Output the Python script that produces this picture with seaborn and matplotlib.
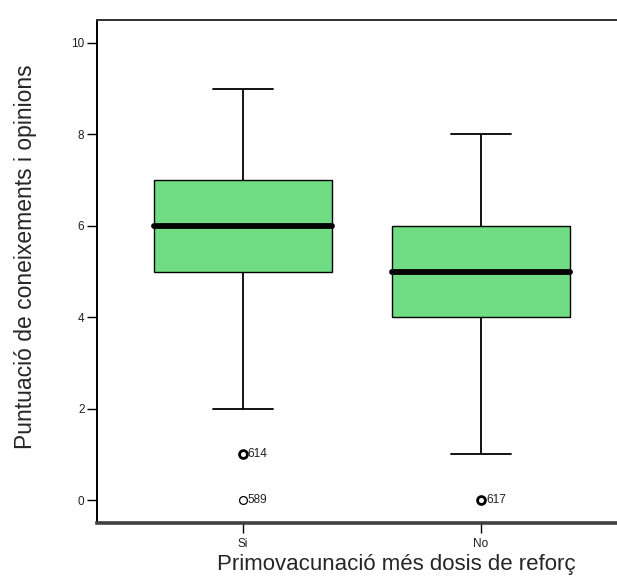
import seaborn as sns
import matplotlib.pyplot as plt
import pandas as pd

# groups and scores (0-10) per group
groups = ["Si", "No"]
si_scores = [0, 1, 1, 2, 5, 5, 5, 6, 6, 6, 7, 7, 7, 8, 8, 9, 9]
no_scores = [0, 0, 1, 4, 4, 4, 5, 5, 5, 5, 6, 6, 6, 7, 8, 8, 8]

# labelled outliers (case numbers)
out_group = ["Si", "Si", "No"]
out_value = [1, 0, 0]
out_case = ["614", "589", "617"]
out_count = [2, 1, 2]

y_ticks = [0, 2, 4, 6, 8, 10]

data = pd.DataFrame({
    'grup': ["Si"] * len(si_scores) + ["No"] * len(no_scores),
    'punt': si_scores + no_scores,
})

sns.set_style('white')
plt.rcParams['font.family'] = ['Liberation Sans', 'DejaVu Sans']

fig = plt.figure(figsize=(6.17, 5.78), dpi=100)
ax = fig.add_axes([0.1572, 0.0952, 0.859, 0.870])

sns.boxplot(data=data, x='grup', y='punt', order=groups, ax=ax,
            width=0.75, color='#70dc84', saturation=1, showfliers=False,
            whis=1.5,
            boxprops={'edgecolor': 'black', 'linewidth': 1.0},
            whiskerprops={'color': 'black', 'linewidth': 1.3},
            capprops={'color': 'black', 'linewidth': 1.3},
            medianprops={'color': 'black', 'linewidth': 4.2,
                         'solid_capstyle': 'round'},
            capwidths=0.25)

# outliers with case labels
for g, v, c, n in zip(out_group, out_value, out_case, out_count):
    xpos = groups.index(g)
    ax.scatter([xpos], [v], s=32, facecolor='white', edgecolor='black',
               linewidth=0.9 if n == 1 else 2.0, zorder=5)
    ax.annotate(c, (xpos, v), xytext=(3.5, 0), textcoords='offset points',
                va='center', ha='left', fontsize=8.5, color='#202020')

ax.set_xlim(-0.613, 1.613)
ax.set_ylim(-0.5, 10.5)
ax.set_yticks(y_ticks)
ax.set_yticklabels([str(t) for t in y_ticks], fontsize=8.5)
ax.set_xticks(range(len(groups)))
ax.set_xticklabels(groups, fontsize=8.5)
ax.tick_params(axis='y', direction='out', length=7.5, width=1.0,
               color='black', labelcolor='#202020', left=True, pad=1.5)
ax.tick_params(axis='x', direction='out', length=7.5, width=1.0,
               color='black', labelcolor='#202020', bottom=True, pad=3)

ax.set_ylabel('Puntuació de coneixements i opinions', fontsize=16.5)
ax.set_xlabel('Primovacunació més dosis de reforç', fontsize=16)
ax.yaxis.set_label_coords(-0.113, 0.53)
ax.xaxis.set_label_coords(0.565, -0.062)

ax.spines['right'].set_visible(False)
ax.spines['left'].set_color('black')
ax.spines['left'].set_linewidth(1.4)
ax.spines['top'].set_color('#303030')
ax.spines['top'].set_linewidth(1.4)
ax.spines['bottom'].set_color('#404040')
ax.spines['bottom'].set_linewidth(2.6)

plt.savefig('out.png', dpi=100)
